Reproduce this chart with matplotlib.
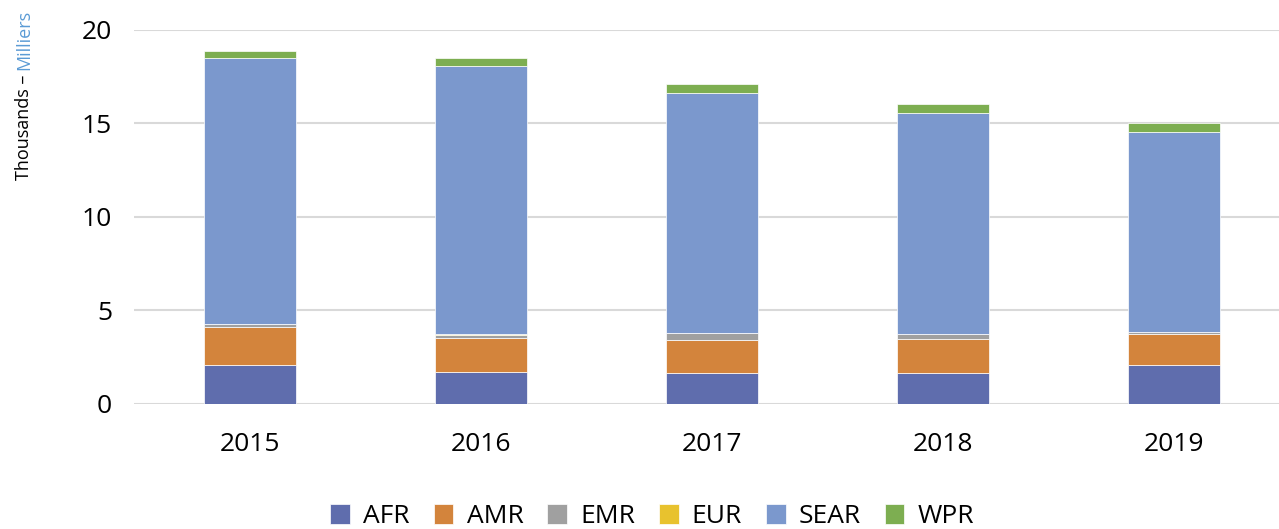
import numpy as np
import matplotlib.pyplot as plt

years = ['2015', '2016', '2017', '2018', '2019']
regions = ['AFR', 'AMR', 'EMR', 'EUR', 'SEAR', 'WPR']
afr = [2.07, 1.71, 1.66, 1.66, 2.09]
amr = [2.05, 1.81, 1.77, 1.82, 1.64]
emr = [0.17, 0.19, 0.36, 0.27, 0.13]
eur = [0.01, 0.01, 0.01, 0.01, 0.01]
sear = [14.18, 14.37, 12.83, 11.81, 10.70]
wpr = [0.41, 0.39, 0.48, 0.46, 0.43]
colors = ['#5f6dad', '#d3843c', '#a0a0a0', '#e8c22e', '#7b98cd', '#7dae51']

plt.rcParams['font.family'] = ['Open Sans', 'DejaVu Sans']
fig = plt.figure(figsize=(12.79, 5.29), dpi=100)
ax = fig.add_axes([0.105, 0.2363, 0.895, 0.707])

x = np.arange(len(years))
bottom = np.zeros(len(years))
for name, vals, c in zip(regions, [afr, amr, emr, eur, sear, wpr], colors):
    ax.bar(x, vals, 0.4, bottom=bottom, color=c, label=name,
           edgecolor='white', linewidth=0.5, zorder=3)
    bottom += np.array(vals)

ax.set_ylim(0, 20)
ax.set_xlim(-0.5, 4.454)
ax.set_yticks([0, 5, 10, 15, 20])
ax.set_xticks(x)
ax.set_xticklabels(years)
ax.tick_params(length=0, labelsize=19)
ax.tick_params(axis='x', pad=20)
ax.tick_params(axis='y', pad=16)
ax.grid(axis='y', color='#d9d9d9', linewidth=1.5, zorder=0)
for s in ax.spines.values():
    s.set_visible(False)

# two-coloured axis title
t1 = fig.text(0.012, 0.66, 'Thousands – ', rotation=90, ha='left', va='bottom',
              fontsize=13, color='black')
fig.canvas.draw()
bb = t1.get_window_extent().transformed(fig.transFigure.inverted())
fig.text(0.012, bb.y1, 'Milliers', rotation=90, ha='left', va='bottom',
         fontsize=13, color='#5b9bd5')

fig.legend(loc='lower center', ncol=6, frameon=False, fontsize=19,
           handlelength=0.75, handleheight=0.75, columnspacing=0.9,
           handletextpad=0.5, bbox_to_anchor=(0.51, -0.045))

fig.savefig('out.png', dpi=100)
